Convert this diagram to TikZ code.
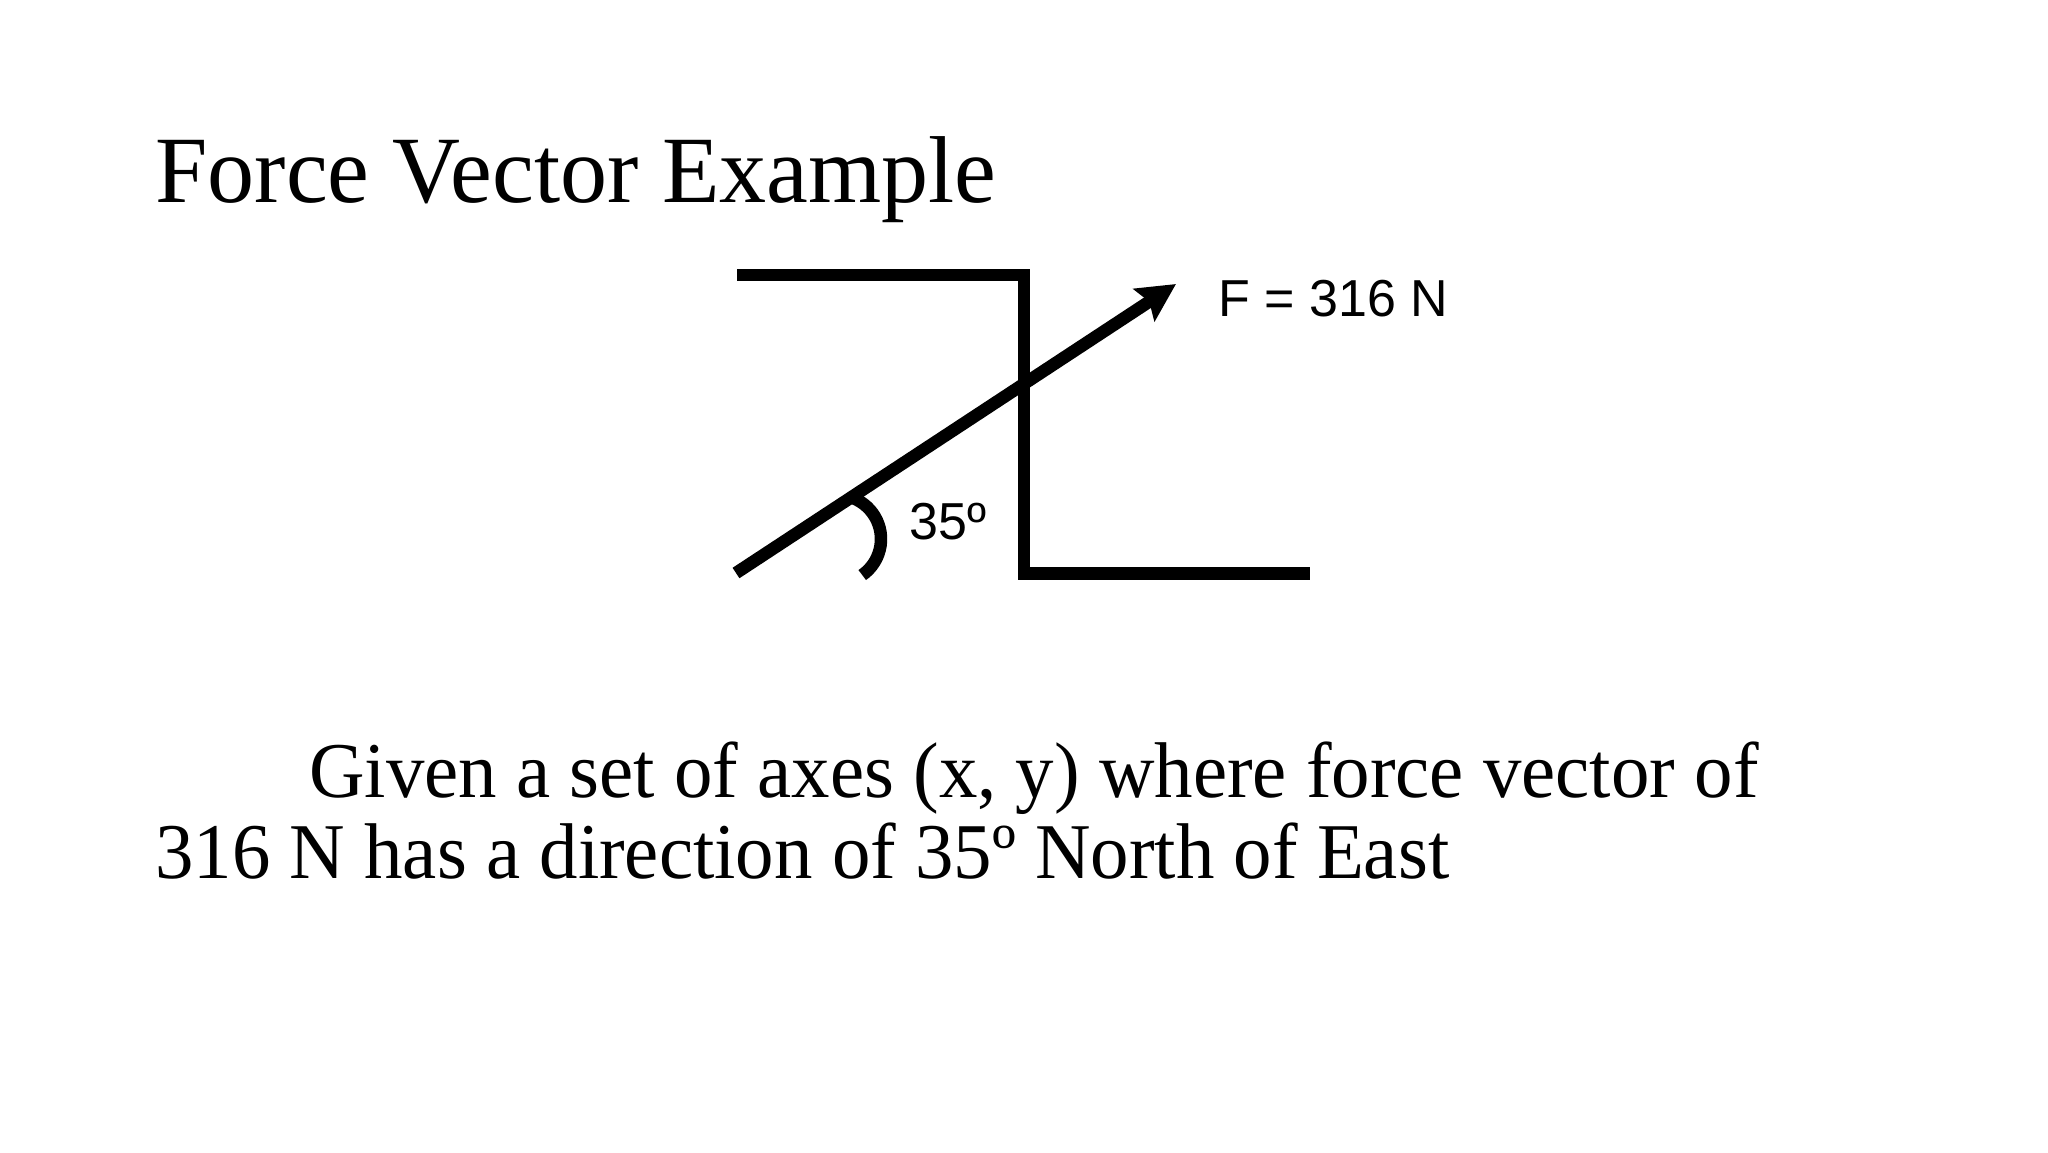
\documentclass[tikz,border=0pt]{standalone}
\usepackage{fontspec}
\setmainfont{Liberation Serif}
\newfontfamily\arialf{Liberation Sans}
\newfontfamily\titlef[FakeStretch=0.99]{Liberation Serif}
\newfontfamily\bodyf[FakeStretch=0.973]{Liberation Serif}
\usetikzlibrary{arrows.meta}
\tikzset{
  x=0.5pt, y=0.5pt,
  thick line/.style={line width=6.25pt, line cap=butt, line join=miter},
  title text/.style={anchor=base west, inner sep=0pt, font=\titlef\fontsize{#1}{#1}\selectfont},
  serif text/.style={anchor=base west, inner sep=0pt, font=\bodyf\fontsize{#1}{#1}\selectfont},
  sans text/.style={anchor=base west, inner sep=0pt, font=\arialf\fontsize{#1}{#1}\selectfont},
}
\begin{document}
\begin{tikzpicture}
\useasboundingbox[fill=white] (0,0) rectangle (2048,-1152);
% title
\node[title text=47.5pt] (title) at (155,-202) {Force Vector Example};
% axes-like bracket
\coordinate (tl) at (737,-275);
\coordinate (tr) at (1024,-275);
\coordinate (br) at (1024,-573.5);
\coordinate (be) at (1310,-573.5);
\draw[thick line] (tl) -- (tr) -- (br) -- (be);
% force vector
\coordinate (vstart) at (736,-573);
\coordinate (vtip) at (1176,-284);
\draw[thick line, -{Stealth[length=19pt, width=19pt, inset=3pt]}] (vstart) -- (vtip);
% angle arc
\coordinate (arcstart) at (852.05,-497.65);
\draw[thick line] (arcstart) arc[start angle=70, end angle=-55, radius=22pt];
% labels
\node[sans text=26pt] (flabel) at (1218,-316) {F = 316 N};
\node[sans text=26pt] (alabel) at (909,-539) {35º};
% body text
\node[serif text=39.5pt] (body1) at (309,-797) {Given a set of axes (x, y) where force vector of};
\node[serif text=39.5pt] (body2) at (155,-878) {316 N has a direction of 35º North of East};
\end{tikzpicture}
\end{document}
